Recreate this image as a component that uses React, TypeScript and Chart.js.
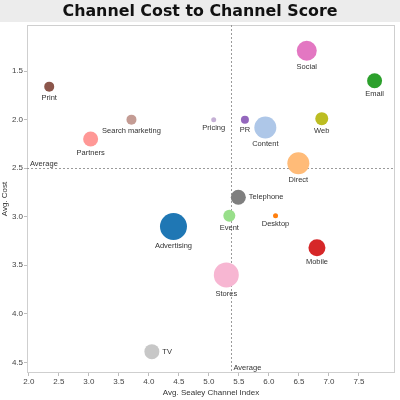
import React, { useEffect, useRef } from "react";
import { Chart, registerables } from "chart.js";

Chart.register(...registerables);

const TITLE = "Channel Cost to Channel Score";
const channels = ["Print", "Search marketing", "Partners", "Pricing", "PR", "Content", "Social", "Email", "Web", "Direct", "Telephone", "Event", "Desktop", "Advertising", "Mobile", "Stores", "TV"];
const channelIndex = [2.34, 3.71, 3.03, 5.08, 5.6, 5.94, 6.63, 7.76, 6.88, 6.49, 5.49, 5.34, 6.11, 4.41, 6.8, 5.29, 4.05];
const avgCost = [1.66, 2.0, 2.2, 2.0, 2.0, 2.08, 1.29, 1.6, 1.99, 2.45, 2.8, 2.99, 2.99, 3.1, 3.32, 3.6, 4.39];
const bubbleSize = [5, 5, 7.5, 2.5, 4, 11, 10, 7.5, 6.5, 11, 7.5, 6, 2.5, 13.5, 8.5, 12.5, 7.5];
const channelColors = ["#8c564b", "#c49c94", "#ff9896", "#c5b0d5", "#9467bd", "#aec7e8", "#e377c2", "#2ca02c", "#bcbd22", "#ffbb78", "#7f7f7f", "#98df8a", "#ff7f0e", "#1f77b4", "#d62728", "#f7b6d2", "#c7c7c7"];
const labelRight = ["Telephone", "TV"];
const avgIndex = 5.36;
const avgCostLine = 2.5;
const xTicks = [2.0, 2.5, 3.0, 3.5, 4.0, 4.5, 5.0, 5.5, 6.0, 6.5, 7.0, 7.5];
const yTicks = [1.5, 2.0, 2.5, 3.0, 3.5, 4.0, 4.5];

const FONT = "'Liberation Sans', Arial, sans-serif";

const decorPlugin = {
  id: "decor",
  beforeDraw(chart: any) {
    const ctx = chart.ctx;
    ctx.save();
    ctx.fillStyle = "#ffffff";
    ctx.fillRect(0, 0, chart.width, chart.height);
    ctx.fillStyle = "#ececec";
    ctx.fillRect(0, 0, chart.width, 22);
    ctx.fillStyle = "#111";
    ctx.font = `bold 15px 'DejaVu Sans', sans-serif`;
    const w = ctx.measureText(TITLE).width;
    const sx = 275 / w;
    ctx.translate(200, 12.5);
    ctx.scale(sx, 1);
    ctx.textAlign = "center";
    ctx.textBaseline = "middle";
    ctx.fillText(TITLE, 0, 0);
    ctx.restore();
  },
  beforeDatasetsDraw(chart: any) {
    const ctx = chart.ctx;
    const a = chart.chartArea;
    const xs = chart.scales.x;
    const ys = chart.scales.y;
    ctx.save();
    ctx.strokeStyle = "#cfcfcf";
    ctx.lineWidth = 1;
    ctx.strokeRect(a.left + 0.5, a.top + 0.5, a.right - a.left - 1, a.bottom - a.top - 1);
    const vx = Math.round(xs.getPixelForValue(avgIndex)) + 0.5;
    const hy = Math.round(ys.getPixelForValue(avgCostLine)) + 0.5;
    ctx.strokeStyle = "#9a9a9a";
    ctx.setLineDash([2, 2]);
    ctx.beginPath();
    ctx.moveTo(vx, a.top);
    ctx.lineTo(vx, a.bottom);
    ctx.moveTo(a.left, hy);
    ctx.lineTo(a.right, hy);
    ctx.stroke();
    ctx.setLineDash([]);
    ctx.fillStyle = "#333";
    ctx.font = `7.5px ${FONT}`;
    ctx.textAlign = "left";
    ctx.textBaseline = "bottom";
    ctx.fillText("Average", a.left + 3, hy - 1);
    ctx.fillText("Average", vx + 2, a.bottom - 1);
    ctx.restore();
  },
  afterDatasetsDraw(chart: any) {
    const ctx = chart.ctx;
    const meta = chart.getDatasetMeta(0);
    ctx.save();
    ctx.fillStyle = "#333";
    ctx.font = `7.5px ${FONT}`;
    meta.data.forEach((el: any, i: number) => {
      const r = bubbleSize[i];
      const name = channels[i];
      if (labelRight.includes(name)) {
        ctx.textAlign = "left";
        ctx.textBaseline = "middle";
        ctx.fillText(name, el.x + r + 3, el.y);
      } else {
        ctx.textAlign = "center";
        ctx.textBaseline = "middle";
        ctx.fillText(name, el.x, el.y + r + 6);
      }
    });
    ctx.restore();
  },
};

export default function App() {
  const ref = useRef<HTMLCanvasElement>(null);
  useEffect(() => {
    document.body.style.margin = "0";
    const data = channels.map((_, i) => ({ x: channelIndex[i], y: avgCost[i], r: bubbleSize[i] }));
    const chart = new Chart(ref.current as HTMLCanvasElement, {
      type: "bubble",
      data: {
        datasets: [
          {
            data,
            backgroundColor: channelColors,
            borderWidth: 0,
            hoverBorderWidth: 0,
          },
        ],
      },
      plugins: [decorPlugin],
      options: {
        animation: false,
        responsive: false,
        layout: { autoPadding: false, padding: { top: 25, right: 5, left: 0, bottom: 0 } },
        plugins: { legend: { display: false }, tooltip: { enabled: false } },
        scales: {
          x: {
            type: "linear",
            min: 1.97,
            max: 8.1,
            afterBuildTicks: (s: any) => { s.ticks = xTicks.map((v) => ({ value: v })); },
            afterFit: (s: any) => { s.height = 27; },
            border: { display: false },
            grid: { drawOnChartArea: false, drawTicks: true, tickLength: 3, color: "#bdbdbd" },
            ticks: {
              color: "#444",
              font: { family: FONT, size: 8 },
              padding: 1,
              maxRotation: 0,
              callback: (v: any) => Number(v).toFixed(1),
            },
            title: { display: true, text: "Avg. Sealey Channel Index", color: "#333", font: { family: FONT, size: 8 }, padding: { top: 0, bottom: 2 } },
          },
          y: {
            type: "linear",
            reverse: true,
            min: 1.025,
            max: 4.61,
            afterBuildTicks: (s: any) => { s.ticks = yTicks.map((v) => ({ value: v })); },
            afterFit: (s: any) => { s.width = 27; },
            border: { display: false },
            grid: { drawOnChartArea: false, drawTicks: true, tickLength: 3, color: "#bdbdbd" },
            ticks: {
              color: "#444",
              font: { family: FONT, size: 8 },
              padding: 1,
              callback: (v: any) => Number(v).toFixed(1),
            },
            title: { display: true, text: "Avg. Cost", color: "#333", font: { family: FONT, size: 8 }, padding: { top: 0, bottom: 0 } },
          },
        },
      },
    } as any);
    return () => chart.destroy();
  }, []);
  return (
    <div style={{ width: 400, height: 400 }}>
      <canvas ref={ref} width={400} height={400} style={{ display: "block" }} />
    </div>
  );
}
